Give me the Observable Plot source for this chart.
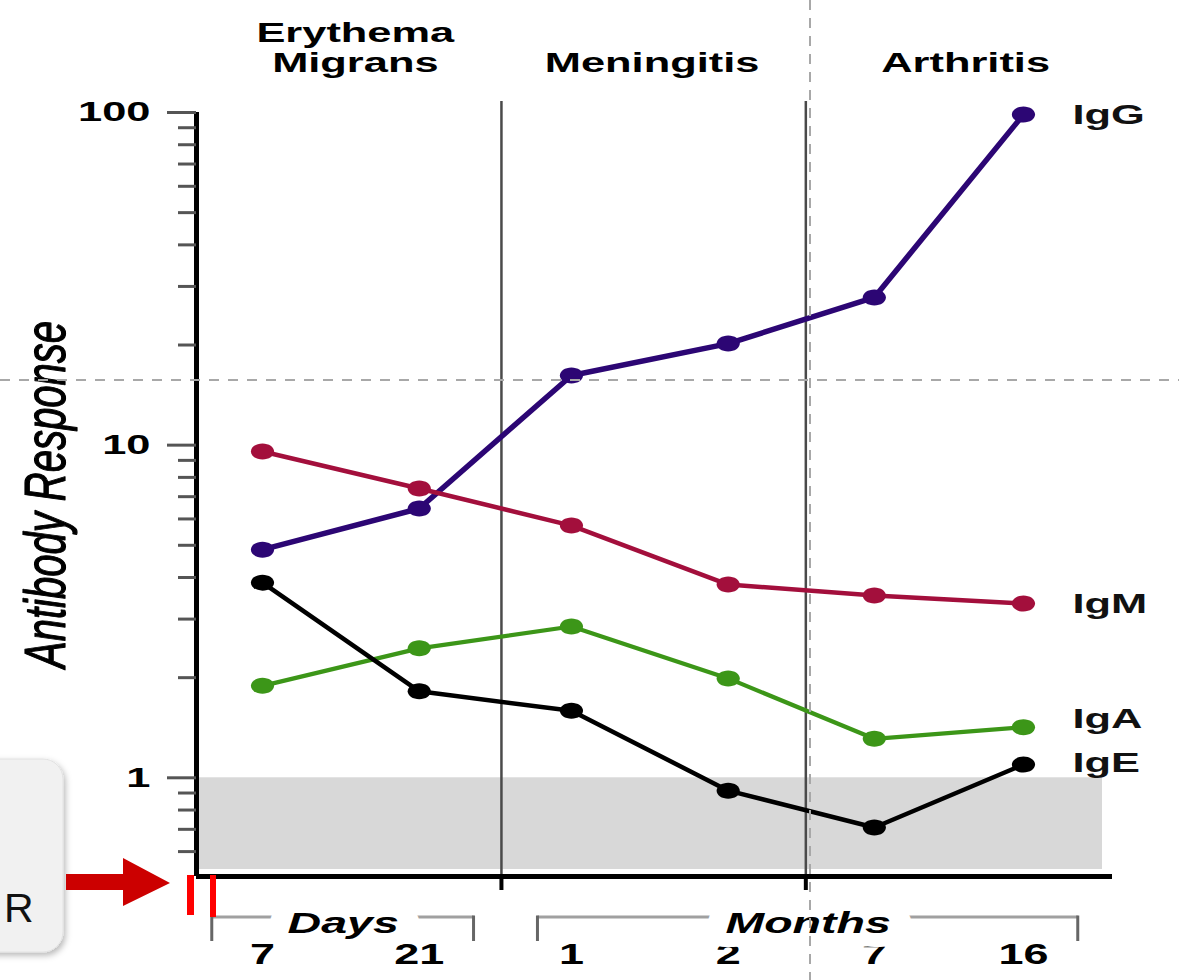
<!DOCTYPE html>
<html><head><meta charset="utf-8">
<script src="https://cdn.jsdelivr.net/npm/d3@7"></script>
<script src="https://cdn.jsdelivr.net/npm/@observablehq/plot@0.6"></script>
<style>
html,body{margin:0;padding:0;background:#fff;}
#wrap{position:relative;width:1179px;height:980px;overflow:hidden;}
#overlay{position:absolute;left:0;top:0;pointer-events:none;}
</style></head><body><div id="wrap"></div>
<script>
// ---------------- data ----------------
const timepoints = [0, 1.03, 2.03, 3.06, 4.02, 5];
const timeLabels = ["7", "21", "1", "2", "7", "16"];
const series = ["IgG", "IgM", "IgA", "IgE"];
const IgG = [4.85, 6.45, 16.2, 20.2, 27.8, 98.6];
const IgM = [9.57, 7.41, 5.73, 3.81, 3.53, 3.34];
const IgA = [1.89, 2.45, 2.85, 1.99, 1.31, 1.42];
const IgE = [3.86, 1.82, 1.59, 0.915, 0.709, 1.096];
const phaseNames = ["Erythema\nMigrans", "Meningitis", "Arthritis"];
const phaseCenters = [0.61, 2.56, 4.62];
const phaseBoundaries = [1.57, 3.57];
const periodNames = ["Days", "Months"];
const periodFrom = [-0.33, 1.81];
const periodTo = [1.39, 5.36];
const negativeBand = [{y1: 0.53, y2: 1}];
const yMajorTicks = [1, 10, 100];
const yMinorTicks = [0.6, 0.7, 0.8, 0.9, 2, 3, 4, 5, 6, 7, 8, 9, 20, 30, 40, 50, 60, 70, 80, 90];
const yAxisTitle = "Antibody Response";

// ---------------- styles ----------------
const colors = {IgG: "#2c0674", IgM: "#a30f3c", IgA: "#3c9618", IgE: "#000000"};
const widths = {IgG: 5.5, IgM: 4.5, IgA: 4.2, IgE: 4.5};
const labelNudge = {IgG: 0, IgM: 0, IgA: -8, IgE: -2};
const xDomain = [-0.4336, 5.585];
const yDomain = [0.505, 100];

const valuesBySeries = {IgG, IgM, IgA, IgE};
const rows = series.flatMap(s => valuesBySeries[s].map((v, i) => ({series: s, t: timepoints[i], v})));
const phases = phaseNames.map((name, i) => ({name, x: phaseCenters[i]}));
const periods = periodNames.map((label, i) => ({label, from: periodFrom[i], to: periodTo[i]}));

const ellipse = {
  draw(context, size) {
    const r = Math.sqrt(size / Math.PI);
    const rx = r * 1.45, ry = r, k = 0.5523;
    context.moveTo(rx, 0);
    context.bezierCurveTo(rx, ry * k, rx * k, ry, 0, ry);
    context.bezierCurveTo(-rx * k, ry, -rx, ry * k, -rx, 0);
    context.bezierCurveTo(-rx, -ry * k, -rx * k, -ry, 0, -ry);
    context.bezierCurveTo(rx * k, -ry, rx, -ry * k, rx, 0);
    context.closePath();
  }
};

function brackets(index, scales, values, dims) {
  const g = d3.create("svg:g");
  const yb = dims.height - dims.marginBottom + 41;
  for (const p of periods) {
    const a = scales.x(p.from), b = scales.x(p.to);
    g.append("line").attr("x1", a).attr("x2", b).attr("y1", yb).attr("y2", yb)
      .attr("stroke", "#a0a0a0").attr("stroke-width", 3);
    for (const xx of [a, b]) {
      g.append("line").attr("x1", xx).attr("x2", xx).attr("y1", yb - 1.5).attr("y2", yb + 24)
        .attr("stroke", "#666").attr("stroke-width", 3);
    }
  }
  return g.node();
}

const marks = [
  Plot.rect(negativeBand, {y1: "y1", y2: "y2", fill: "#d8d8d8", insetRight: 10}),
  Plot.ruleX(phaseBoundaries, {stroke: "#4a4a4a", strokeWidth: 2.5, insetTop: -11}),
  Plot.ruleX(phaseBoundaries, {y1: yDomain[0], y2: yDomain[0], insetBottom: -14, stroke: "#000", strokeWidth: 4}),
  Plot.ruleX([xDomain[0]], {stroke: "#000", strokeWidth: 5}),
  Plot.ruleY([yDomain[0]], {stroke: "#000", strokeWidth: 5}),
  Plot.axisY(yMinorTicks, {anchor: "left", tickSize: 18, tickFormat: () => "", stroke: "#555", strokeWidth: 3, label: null}),
  Plot.axisY(yMajorTicks, {anchor: "left", tickSize: 29, tickPadding: 17, tickFormat: d => String(d), fontSize: 28, fontWeight: "bold", stroke: "#555", fill: "#000", strokeWidth: 3, label: null}),
  Plot.axisX(timepoints, {anchor: "bottom", tickSize: 0, tickPadding: 67, tickFormat: d => timeLabels[timepoints.indexOf(d)], fontSize: 29, fontWeight: "bold", fill: "#000", label: null}),
  brackets,
  Plot.text(periods, {x: d => (d.from + d.to) / 2, text: "label", frameAnchor: "bottom", lineAnchor: "bottom", dy: 56, fontSize: 30, fontWeight: "bold", fontStyle: "italic", fill: "#000", stroke: "#fff", strokeWidth: 28}),
  Plot.text(phases, {x: "x", text: "name", frameAnchor: "top", lineAnchor: "bottom", dy: -41, fontSize: 28, fontWeight: "bold", lineHeight: 1.07, fill: "#000"}),
  Plot.text([yAxisTitle], {text: d => d, frameAnchor: "left", textAnchor: "middle", dx: -150, dy: 0, rotate: -90, fontSize: 58, fontStyle: "italic", fill: "#000", stroke: "#000", strokeWidth: 1.2}),
  ...series.map(s => Plot.line(rows.filter(d => d.series === s), {x: "t", y: "v", stroke: colors[s], strokeWidth: widths[s]})),
  ...series.map(s => Plot.dot(rows.filter(d => d.series === s), {x: "t", y: "v", fill: colors[s], r: 8, symbol: ellipse})),
  ...series.map(s => Plot.text(rows.filter(d => d.series === s && d.t === timepoints[timepoints.length - 1]), {x: "t", y: "v", text: "series", dx: 49, dy: labelNudge[s], textAnchor: "start", fontSize: 28, fontWeight: "bold", fill: "#111"}))
];

const svg = Plot.plot({
  width: 1179,
  height: 980,
  marginLeft: 196,
  marginRight: 67,
  marginTop: 112,
  marginBottom: 104,
  x: {type: "linear", domain: xDomain, axis: null},
  y: {type: "log", domain: yDomain, axis: null},
  style: {fontFamily: "'Liberation Sans', Arial, sans-serif", background: "#fff", overflow: "visible"},
  marks
});
document.getElementById("wrap").appendChild(svg);

// horizontal stretch of the heavy labels, compression of the rotated title
svg.querySelectorAll("text").forEach(t => {
  const f = t.textContent === yAxisTitle ? 0.69 : 1.55;
  const tspans = t.querySelectorAll("tspan");
  const targets = tspans.length ? Array.from(tspans) : [t];
  targets.forEach(el => {
    const L = el.getComputedTextLength();
    if (L > 0) { el.setAttribute("textLength", L * f); el.setAttribute("lengthAdjust", "spacingAndGlyphs"); }
  });
});

// screen overlay annotations (not chart data)
const ov = d3.select("#wrap").append("svg").attr("id", "overlay").attr("width", 1179).attr("height", 980);
ov.append("defs").append("filter").attr("id", "sh").attr("x", "-50%").attr("y", "-50%").attr("width", "200%").attr("height", "200%")
  .append("feDropShadow").attr("dx", 2).attr("dy", 3).attr("stdDeviation", 3).attr("flood-opacity", 0.28);
ov.append("line").attr("x1", 0).attr("x2", 1179).attr("y1", 380).attr("y2", 380)
  .attr("stroke", "#a8a8a8").attr("stroke-width", 2).attr("stroke-dasharray", "10 9");
ov.append("line").attr("x1", 810).attr("x2", 810).attr("y1", 0).attr("y2", 980)
  .attr("stroke", "#a8a8a8").attr("stroke-width", 2).attr("stroke-dasharray", "10 8");
ov.append("rect").attr("x", -30).attr("y", 759).attr("width", 93).attr("height", 193).attr("rx", 20)
  .attr("fill", "#f1f1f1").attr("stroke", "#e2e2e2").attr("filter", "url(#sh)");
ov.append("text").attr("x", 4).attr("y", 922).attr("font-family", "'Liberation Sans', Arial, sans-serif").attr("font-size", 41).attr("fill", "#111").text("R");
ov.append("polygon").attr("points", "66,874 123,874 123,858 170,883 123,906 123,890 66,890").attr("fill", "#cc0000");
ov.append("rect").attr("x", 187).attr("y", 875).attr("width", 7).attr("height", 40).attr("fill", "#ff0000");
ov.append("rect").attr("x", 210).attr("y", 875).attr("width", 6).attr("height", 42).attr("fill", "#ff0000");
</script></body></html>
